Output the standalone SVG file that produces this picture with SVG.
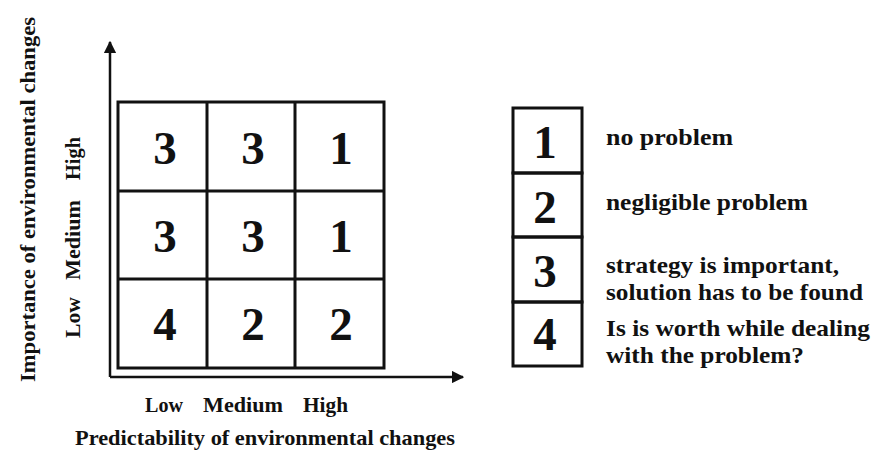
<svg xmlns="http://www.w3.org/2000/svg" width="873" height="452" viewBox="0 0 873 452">
<defs>
<style>
.lbl{font-family:"Liberation Serif","Times New Roman",serif;font-weight:bold;fill:#111}
.num{font-family:"Liberation Serif","Times New Roman",serif;font-size:47px;font-weight:bold;fill:#111;text-anchor:middle}
.box{fill:none;stroke:#111;stroke-width:3}
.ax{stroke:#111;stroke-width:2.5;fill:none}
</style>
<marker id="ah" viewBox="0 0 10 10" refX="9" refY="5" markerWidth="5" markerHeight="5" orient="auto" markerUnits="strokeWidth"><path d="M0,0 L10,5 L0,10 Z" fill="#111"/></marker>
</defs>
<rect width="873" height="452" fill="#fff"/>
<g id="connectors">
<line class="ax" x1="110" y1="377" x2="110" y2="42" marker-end="url(#ah)"/>
<line class="ax" x1="110" y1="377" x2="463" y2="377" marker-end="url(#ah)"/>
</g>
<g id="grid">
<rect class="box" x="118" y="102" width="266" height="266"/>
<line class="box" x1="207" y1="102" x2="207" y2="368"/>
<line class="box" x1="295" y1="102" x2="295" y2="368"/>
<line class="box" x1="118" y1="191" x2="384" y2="191"/>
<line class="box" x1="118" y1="279" x2="384" y2="279"/>
</g>
<g id="cells">
<text class="num" x="165" y="164">3</text>
<text class="num" x="253" y="164">3</text>
<text class="num" x="341" y="164">1</text>
<text class="num" x="165" y="252">3</text>
<text class="num" x="253" y="252">3</text>
<text class="num" x="341" y="252">1</text>
<text class="num" x="165" y="340">4</text>
<text class="num" x="253" y="340">2</text>
<text class="num" x="341" y="340">2</text>
</g>
<g id="x-axis-labels">
<text class="lbl" font-size="21" x="145" y="412" textLength="38" lengthAdjust="spacingAndGlyphs">Low</text>
<text class="lbl" font-size="21" x="203" y="412" textLength="80" lengthAdjust="spacingAndGlyphs">Medium</text>
<text class="lbl" font-size="21" x="303" y="412" textLength="45" lengthAdjust="spacingAndGlyphs">High</text>
<text class="lbl" font-size="22" x="75" y="445" textLength="380" lengthAdjust="spacingAndGlyphs">Predictability of environmental changes</text>
</g>
<g id="y-axis-labels">
<text class="lbl" font-size="21" transform="translate(80,338) rotate(-90)" textLength="41" lengthAdjust="spacingAndGlyphs">Low</text>
<text class="lbl" font-size="21" transform="translate(80,280) rotate(-90)" textLength="80" lengthAdjust="spacingAndGlyphs">Medium</text>
<text class="lbl" font-size="21" transform="translate(80,180) rotate(-90)" textLength="43" lengthAdjust="spacingAndGlyphs">High</text>
<text class="lbl" font-size="22" transform="translate(35,382) rotate(-90)" textLength="365" lengthAdjust="spacingAndGlyphs">Importance of environmental changes</text>
</g>
<g id="legend">
<g id="leg1"><rect class="box" x="513" y="108" width="69" height="65"/><text class="num" x="545" y="158">1</text><text class="lbl" font-size="23" x="606" y="145" textLength="127" lengthAdjust="spacingAndGlyphs">no problem</text></g>
<g id="leg2"><rect class="box" x="513" y="173" width="69" height="64"/><text class="num" x="545" y="223">2</text><text class="lbl" font-size="23" x="606" y="210" textLength="202" lengthAdjust="spacingAndGlyphs">negligible problem</text></g>
<g id="leg3"><rect class="box" x="513" y="237" width="69" height="65"/><text class="num" x="545" y="287">3</text><text class="lbl" font-size="23" x="606" y="273" textLength="233" lengthAdjust="spacingAndGlyphs">strategy is important,</text><text class="lbl" font-size="23" x="606" y="300" textLength="257" lengthAdjust="spacingAndGlyphs">solution has to be found</text></g>
<g id="leg4"><rect class="box" x="513" y="302" width="69" height="64"/><text class="num" x="545" y="350">4</text><text class="lbl" font-size="23" x="606" y="336" textLength="264" lengthAdjust="spacingAndGlyphs">Is is worth while dealing</text><text class="lbl" font-size="23" x="606" y="363" textLength="198" lengthAdjust="spacingAndGlyphs">with the problem?</text></g>
</g>
</svg>
